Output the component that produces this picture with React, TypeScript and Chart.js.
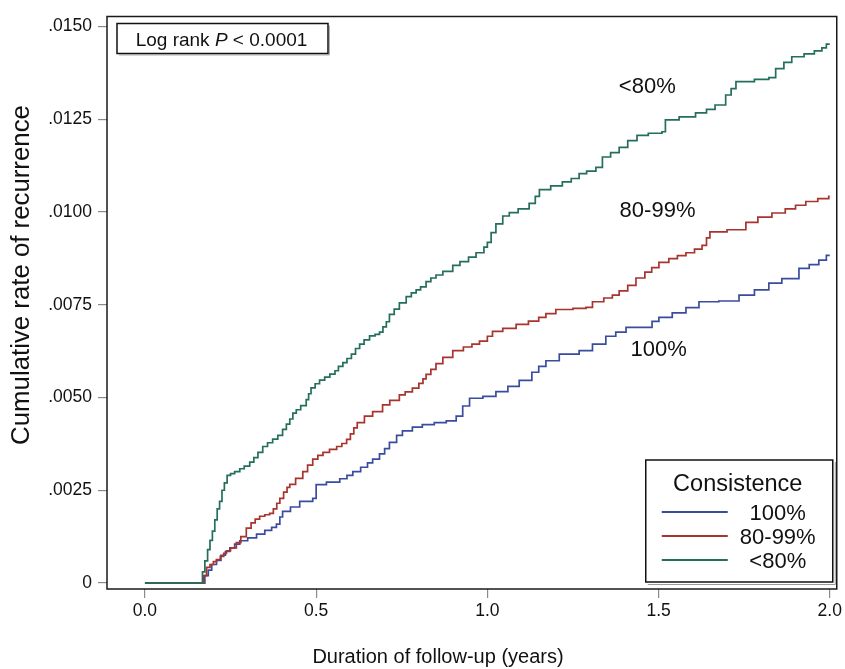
import React, { useEffect, useRef } from "react";
import { Chart, registerables } from "chart.js";

Chart.register(...registerables);

// ---------- data ----------
const seriesLabels = ["100%", "80-99%", "<80%"];
const seriesColors = ["#3A4C9E", "#A7342E", "#246E5D"];
const legendTitle = "Consistence";
const xTickValues = [0, 0.5, 1, 1.5, 2];
const yTickValues = [0, 0.0025, 0.005, 0.0075, 0.01, 0.0125, 0.015];
const xAxisTitle = "Duration of follow-up (years)";
const yAxisTitle = "Cumulative rate of recurrence";

const time100 = [0, 0.17, 0.175, 0.185, 0.195, 0.209, 0.222, 0.235, 0.248, 0.262, 0.277, 0.3, 0.326, 0.35, 0.37, 0.384, 0.394, 0.402, 0.425, 0.452, 0.49, 0.5, 0.53, 0.569, 0.59, 0.607, 0.63, 0.65, 0.665, 0.685, 0.7, 0.714, 0.735, 0.752, 0.781, 0.81, 0.845, 0.88, 0.909, 0.928, 0.948, 0.987, 1.025, 1.06, 1.093, 1.13, 1.15, 1.171, 1.21, 1.268, 1.307, 1.346, 1.375, 1.405, 1.481, 1.501, 1.54, 1.58, 1.618, 1.676, 1.735, 1.78, 1.822, 1.86, 1.91, 1.94, 1.968, 1.99, 2.0];
const rate100 = [0, 0, 0.0002, 0.00035, 0.0005, 0.00061, 0.00075, 0.00085, 0.00095, 0.00105, 0.00114, 0.00122, 0.00132, 0.00142, 0.0015, 0.00159, 0.00178, 0.00193, 0.00205, 0.0022, 0.00228, 0.00265, 0.00272, 0.00281, 0.0029, 0.003, 0.00312, 0.00324, 0.00334, 0.00348, 0.00362, 0.00379, 0.00398, 0.0041, 0.0042, 0.00427, 0.00432, 0.00437, 0.0045, 0.00477, 0.00498, 0.00503, 0.00516, 0.0053, 0.00546, 0.00568, 0.00584, 0.00599, 0.00617, 0.00626, 0.00644, 0.00665, 0.00676, 0.00689, 0.00705, 0.00716, 0.00728, 0.00742, 0.00758, 0.0076, 0.00776, 0.0079, 0.00808, 0.0082, 0.00848, 0.00858, 0.0087, 0.00883, 0.00883];

const time80to99 = [0, 0.168, 0.172, 0.18, 0.19, 0.2, 0.209, 0.22, 0.23, 0.238, 0.25, 0.267, 0.28, 0.296, 0.31, 0.322, 0.335, 0.35, 0.364, 0.375, 0.385, 0.394, 0.405, 0.415, 0.423, 0.44, 0.461, 0.475, 0.49, 0.505, 0.52, 0.539, 0.56, 0.575, 0.589, 0.6, 0.61, 0.62, 0.641, 0.665, 0.694, 0.715, 0.743, 0.76, 0.781, 0.8, 0.812, 0.821, 0.835, 0.85, 0.87, 0.899, 0.93, 0.955, 0.977, 1.0, 1.015, 1.045, 1.084, 1.12, 1.15, 1.171, 1.2, 1.25, 1.288, 1.307, 1.34, 1.365, 1.385, 1.41, 1.434, 1.46, 1.48, 1.501, 1.53, 1.555, 1.58, 1.605, 1.627, 1.64, 1.65, 1.7, 1.755, 1.79, 1.831, 1.87, 1.9, 1.93, 1.965, 1.997, 2.0];
const rate80to99 = [0, 0, 0.0002, 0.00042, 0.0005, 0.00058, 0.00063, 0.00072, 0.0008, 0.00087, 0.00095, 0.00109, 0.00125, 0.00148, 0.00162, 0.00172, 0.0018, 0.00184, 0.00188, 0.002, 0.00215, 0.00228, 0.00245, 0.00258, 0.00266, 0.00282, 0.003, 0.00318, 0.00334, 0.00344, 0.00352, 0.0036, 0.00368, 0.00376, 0.00387, 0.00402, 0.00418, 0.00432, 0.0045, 0.00462, 0.0048, 0.00492, 0.00507, 0.00515, 0.00525, 0.00538, 0.0055, 0.00562, 0.00576, 0.00591, 0.00608, 0.00626, 0.00636, 0.00644, 0.00652, 0.00665, 0.00678, 0.00686, 0.00697, 0.00706, 0.00716, 0.00726, 0.00737, 0.0074, 0.00743, 0.00758, 0.00768, 0.00776, 0.00787, 0.00802, 0.00822, 0.00838, 0.0085, 0.00864, 0.00874, 0.00882, 0.0089, 0.009, 0.0091, 0.0093, 0.00946, 0.00952, 0.00972, 0.00986, 0.00997, 0.01008, 0.01018, 0.01028, 0.01036, 0.01042, 0.01042];

const timeLt80 = [0, 0.165, 0.168, 0.175, 0.183, 0.19, 0.197, 0.204, 0.211, 0.218, 0.225, 0.232, 0.24, 0.25, 0.262, 0.277, 0.29, 0.306, 0.318, 0.33, 0.344, 0.358, 0.373, 0.388, 0.402, 0.413, 0.423, 0.432, 0.442, 0.455, 0.471, 0.478, 0.485, 0.497, 0.51, 0.525, 0.54, 0.555, 0.565, 0.578, 0.59, 0.603, 0.615, 0.627, 0.64, 0.656, 0.672, 0.685, 0.695, 0.705, 0.714, 0.728, 0.743, 0.763, 0.778, 0.792, 0.805, 0.821, 0.835, 0.85, 0.87, 0.899, 0.92, 0.945, 0.967, 0.99, 1.0, 1.011, 1.025, 1.045, 1.064, 1.09, 1.122, 1.14, 1.152, 1.185, 1.219, 1.245, 1.268, 1.29, 1.317, 1.336, 1.36, 1.385, 1.41, 1.437, 1.47, 1.51, 1.52, 1.56, 1.608, 1.64, 1.665, 1.696, 1.712, 1.726, 1.78, 1.822, 1.842, 1.866, 1.889, 1.925, 1.955, 1.977, 1.99, 2.0];
const rateLt80 = [0, 0, 0.0003, 0.0006, 0.0009, 0.00115, 0.0014, 0.0017, 0.002, 0.0022, 0.0025, 0.0027, 0.0029, 0.00295, 0.003, 0.00308, 0.00315, 0.00326, 0.00338, 0.00352, 0.00368, 0.00378, 0.00388, 0.00398, 0.00414, 0.00428, 0.00442, 0.00458, 0.00467, 0.00478, 0.00494, 0.0051, 0.00526, 0.00537, 0.00547, 0.00555, 0.00563, 0.00572, 0.00584, 0.00594, 0.00605, 0.00617, 0.00632, 0.00644, 0.00655, 0.00666, 0.0067, 0.00676, 0.0069, 0.00704, 0.00724, 0.00738, 0.00755, 0.00772, 0.00782, 0.0079, 0.00798, 0.00812, 0.00822, 0.0083, 0.0084, 0.00856, 0.00866, 0.00878, 0.0089, 0.00905, 0.00918, 0.00944, 0.00968, 0.00989, 0.00998, 0.01008, 0.01023, 0.01042, 0.0106, 0.0107, 0.01081, 0.0109, 0.01103, 0.0111, 0.0112, 0.01148, 0.0116, 0.01174, 0.01192, 0.01206, 0.01212, 0.01216, 0.01248, 0.01256, 0.01267, 0.01276, 0.01288, 0.01315, 0.01332, 0.01351, 0.01357, 0.01362, 0.01386, 0.01403, 0.01418, 0.01426, 0.01434, 0.01442, 0.01452, 0.01452];

// curve annotation anchors (data coordinates)
const curveLabelX = [1.5, 1.497, 1.467];
const curveLabelY = [0.00628, 0.01002, 0.01337];

const FONT = "'Liberation Sans', Arial, Helvetica, sans-serif";

const toPoints = (t: number[], v: number[]) => t.map((x, i) => ({ x, y: v[i] }));

const decorPlugin = {
  id: "decor",
  afterDatasetsDraw(chart: any) {
    const { ctx, chartArea } = chart;
    const xs = chart.scales.x;
    const ys = chart.scales.y;
    ctx.save();

    // plot frame
    ctx.strokeStyle = "#1a1a1a";
    ctx.lineWidth = 1.5;
    ctx.strokeRect(chartArea.left, chartArea.top, chartArea.right - chartArea.left, chartArea.bottom - chartArea.top);

    // Log rank box
    const bx = chartArea.left + 10, by = chartArea.top + 7, bw = 211, bh = 30;
    ctx.strokeStyle = "#b0b0b0";
    ctx.lineWidth = 1;
    ctx.beginPath();
    ctx.moveTo(bx + 2, by + bh + 1.5);
    ctx.lineTo(bx + bw + 1.5, by + bh + 1.5);
    ctx.lineTo(bx + bw + 1.5, by + 2);
    ctx.stroke();
    ctx.strokeStyle = "#111";
    ctx.lineWidth = 1.5;
    ctx.strokeRect(bx, by, bw, bh);
    ctx.fillStyle = "#111";
    ctx.textBaseline = "alphabetic";
    ctx.textAlign = "left";
    const p1 = "Log rank ", p2 = "P", p3 = " < 0.0001";
    const fN = `19px ${FONT}`, fI = `italic 19px ${FONT}`;
    ctx.font = fN; const w1 = ctx.measureText(p1).width; const w3 = ctx.measureText(p3).width;
    ctx.font = fI; const w2 = ctx.measureText(p2).width;
    let tx = bx + bw / 2 - (w1 + w2 + w3) / 2 - 1;
    const ty = by + 22;
    ctx.font = fN; ctx.fillText(p1, tx, ty); tx += w1;
    ctx.font = fI; ctx.fillText(p2, tx, ty); tx += w2;
    ctx.font = fN; ctx.fillText(p3, tx, ty);

    // curve labels
    ctx.font = `22px ${FONT}`;
    ctx.textAlign = "center";
    ctx.textBaseline = "middle";
    seriesLabels.forEach((lab, i) => {
      ctx.fillText(lab, xs.getPixelForValue(curveLabelX[i]), ys.getPixelForValue(curveLabelY[i]));
    });

    // legend box
    const lx = chartArea.right - 191, ly = 460, lw = 187, lh = 122;
    ctx.strokeStyle = "#9a9a9a";
    ctx.lineWidth = 1;
    ctx.beginPath();
    ctx.moveTo(lx + 2, ly + lh + 2.5);
    ctx.lineTo(lx + lw + 2.5, ly + lh + 2.5);
    ctx.lineTo(lx + lw + 2.5, ly + 2);
    ctx.stroke();
    ctx.fillStyle = "#fff";
    ctx.fillRect(lx, ly, lw, lh);
    ctx.strokeStyle = "#111";
    ctx.lineWidth = 1.5;
    ctx.strokeRect(lx, ly, lw, lh);
    ctx.fillStyle = "#111";
    ctx.font = `23.5px ${FONT}`;
    ctx.textAlign = "center";
    ctx.textBaseline = "middle";
    ctx.fillText(legendTitle, lx + 92, ly + 25);
    ctx.font = `22px ${FONT}`;
    seriesLabels.forEach((lab, i) => {
      const yy = ly + 52 + i * 24;
      ctx.strokeStyle = seriesColors[i];
      ctx.lineWidth = 2.2;
      ctx.beginPath();
      ctx.moveTo(lx + 16, yy);
      ctx.lineTo(lx + 82, yy);
      ctx.stroke();
      ctx.fillStyle = "#111";
      ctx.fillText(lab, lx + 132, yy + 1.5);
    });

    // axis titles
    ctx.fillStyle = "#111";
    ctx.font = `20px ${FONT}`;
    ctx.textAlign = "center";
    ctx.textBaseline = "middle";
    ctx.fillText(xAxisTitle, 438, 657);
    ctx.save();
    ctx.translate(22, 275);
    ctx.rotate(-Math.PI / 2);
    ctx.font = `25.8px ${FONT}`;
    ctx.fillText(yAxisTitle, 0, 0);
    ctx.restore();

    ctx.restore();
  },
};

export default function App() {
  const ref = useRef<HTMLCanvasElement | null>(null);
  useEffect(() => {
    if (!ref.current) return;
    const mk = (i: number, t: number[], v: number[], order: number) => ({
      label: seriesLabels[i],
      data: toPoints(t, v),
      borderColor: seriesColors[i],
      backgroundColor: seriesColors[i],
      borderWidth: 1.7,
      pointRadius: 0,
      stepped: "before" as const,
      fill: false,
      order,
    });
    const chart = new Chart(ref.current, {
      type: "line",
      data: {
        datasets: [
          mk(0, time100, rate100, 2),
          mk(1, time80to99, rate80to99, 1),
          mk(2, timeLt80, rateLt80, 0),
        ],
      },
      options: {
        animation: false,
        responsive: true,
        maintainAspectRatio: false,
        layout: { padding: { top: 7, right: 7, left: 0, bottom: 0 } },
        plugins: { legend: { display: false }, tooltip: { enabled: false } },
        scales: {
          x: {
            type: "linear",
            min: -0.1108,
            max: 2.0204,
            afterBuildTicks: (s: any) => { s.ticks = xTickValues.map((v) => ({ value: v })); },
            afterFit: (s: any) => { s.height = 80; },
            ticks: {
              callback: (v: any) => Number(v).toFixed(1),
              font: { family: FONT, size: 17.5 },
              color: "#111",
              padding: 3,
              maxRotation: 0,
              autoSkip: false,
            },
            grid: { drawOnChartArea: false, drawTicks: true, tickLength: 9, color: "#8a8a8a", lineWidth: 1.2 },
            border: { display: false },
          },
          y: {
            type: "linear",
            min: -0.00016,
            max: 0.015265,
            afterBuildTicks: (s: any) => { s.ticks = yTickValues.map((v) => ({ value: v })); },
            afterFit: (s: any) => { s.width = 107; },
            ticks: {
              callback: (v: any) => (Number(v) === 0 ? "0" : Number(v).toFixed(4).replace(/^0/, "")),
              font: { family: FONT, size: 17.5 },
              color: "#111",
              padding: 6,
              autoSkip: false,
            },
            grid: { drawOnChartArea: false, drawTicks: true, tickLength: 9, color: "#8a8a8a", lineWidth: 1.2 },
            border: { display: false },
          },
        },
      },
      plugins: [decorPlugin],
    });
    return () => chart.destroy();
  }, []);
  return (
    <div style={{ position: "absolute", left: 0, top: 0, width: 845, height: 669, background: "#fff" }}>
      <canvas ref={ref} />
    </div>
  );
}
